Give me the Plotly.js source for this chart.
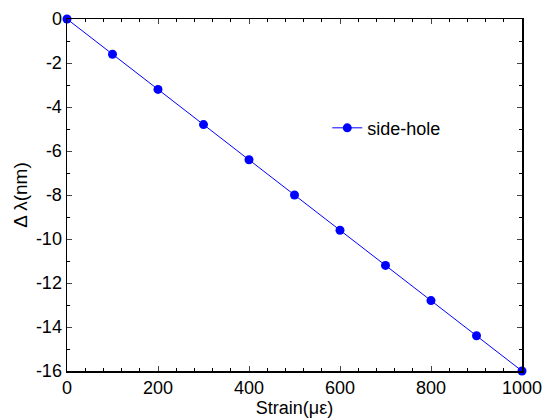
<!DOCTYPE html>
<html>
<head>
<meta charset="utf-8">
<script src="https://cdn.plot.ly/plotly-3.0.1.min.js"></script>
<style>html,body{margin:0;padding:0;background:#fff;}#chart{width:544px;height:419px;}</style>
</head>
<body>
<div id="chart"></div>
<script>
const strain = [0, 100, 200, 300, 400, 500, 600, 700, 800, 900, 1000];
const deltaLambda = [0, -1.6, -3.2, -4.8, -6.4, -8.0, -9.6, -11.2, -12.8, -14.4, -16.0];
const seriesName = 'side-hole';
const xTickVals = [0, 200, 400, 600, 800, 1000];
const xTickText = ['0', '200', '400', '600', '800', '1000'];
const yTickVals = [0, -2, -4, -6, -8, -10, -12, -14, -16];
const yTickText = ['0', '-2', '-4', '-6', '-8', '-10', '-12', '-14', '-16'];

const font = {family: 'Liberation Sans, Arial, sans-serif', color: '#000'};

Plotly.newPlot('chart', [{
  x: strain, y: deltaLambda, name: seriesName,
  type: 'scatter', mode: 'lines+markers', cliponaxis: false,
  line: {color: '#0000ff', width: 1},
  marker: {color: '#0000ff', size: 9}
}], {
  width: 544, height: 419,
  margin: {l: 67, r: 22, t: 19, b: 48},
  paper_bgcolor: '#fff', plot_bgcolor: '#fff',
  font: Object.assign({size: 18}, font),
  showlegend: true,
  legend: {x: 0.572, y: 0.69, xanchor: 'left', yanchor: 'middle', bgcolor: 'rgba(0,0,0,0)', font: Object.assign({size: 18}, font)},
  xaxis: {
    range: [0, 1000], tickvals: xTickVals, ticktext: xTickText, ticks: 'inside', ticklen: 5, tickwidth: 1,
    showline: true, linecolor: '#000', linewidth: 1.5, mirror: 'ticks', showgrid: false, zeroline: false,
    minor: {dtick: 40, tick0: 0, ticks: 'inside', ticklen: 3, tickcolor: '#000', showgrid: false},
    tickfont: Object.assign({size: 18}, font),
    title: {text: 'Strain(με)', font: Object.assign({size: 18}, font), standoff: 0}
  },
  yaxis: {
    range: [-16, 0], tickvals: yTickVals, ticktext: yTickText, ticks: 'inside', ticklen: 5, tickwidth: 1,
    showline: true, linecolor: '#000', linewidth: 1.5, mirror: 'ticks', showgrid: false, zeroline: false,
    minor: {dtick: 1, tick0: 0, ticks: 'inside', ticklen: 3, tickcolor: '#000', showgrid: false},
    tickfont: Object.assign({size: 18}, font),
    title: {text: 'Δ λ(nm)', font: Object.assign({size: 19}, font), standoff: 3}
  }
}, {displayModeBar: false, staticPlot: true});
</script>
</body>
</html>
